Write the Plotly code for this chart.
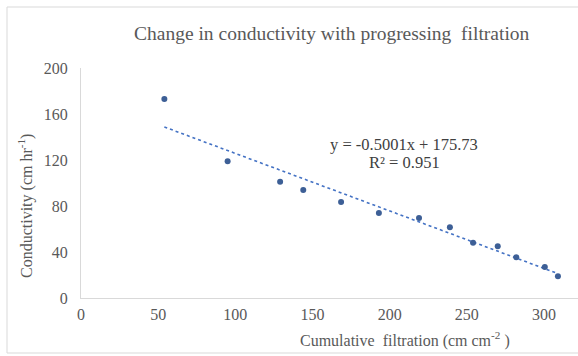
import plotly.graph_objects as go

cum_filtration = [54, 95, 129, 144, 168.5, 193, 219, 239, 254, 270, 282, 300.5, 309]
conductivity = [173, 119, 101, 94, 83.5, 74, 69.5, 61.5, 48, 45, 35.5, 27, 19]
slope = -0.5001
intercept = 175.73
r2 = 0.951
x_ticks = [0, 50, 100, 150, 200, 250, 300]
y_ticks = [0, 40, 80, 120, 160, 200]

W, H = 578, 356
L, R, T, B = 81, 0, 68, 58
pw, ph = W - L - R, H - T - B

def px(x):
    return (x - L) / pw

def py(y):
    return (H - B - y) / ph

serif = "Liberation Serif, Times New Roman, serif"
grey = "#595959"

xs = [min(cum_filtration), max(cum_filtration)]
ys = [slope * v + intercept for v in xs]

fig = go.Figure()
fig.add_trace(go.Scatter(x=xs, y=ys, mode="lines",
                         line=dict(color="#4472C4", width=1.6, dash="dot"),
                         hoverinfo="skip", showlegend=False))
fig.add_trace(go.Scatter(x=cum_filtration, y=conductivity, mode="markers",
                         marker=dict(color="#3d5f96", size=6),
                         showlegend=False))

fig.update_layout(
    width=W, height=H,
    margin=dict(l=L, r=R, t=T, b=B),
    paper_bgcolor="white", plot_bgcolor="white",
    font=dict(family=serif, size=16, color=grey),
    xaxis=dict(range=[0, 322], tickvals=x_ticks, showgrid=False, zeroline=False,
               showline=True, linecolor="#d9d9d9", linewidth=1,
               ticks="outside", ticklen=2, tickcolor="rgba(0,0,0,0)",
               tickfont=dict(family=serif, size=16, color=grey)),
    yaxis=dict(range=[0, 200], tickvals=y_ticks, showgrid=False, zeroline=False,
               showline=True, linecolor="#d9d9d9", linewidth=1,
               ticks="outside", ticklen=9, tickcolor="rgba(0,0,0,0)",
               tickfont=dict(family=serif, size=16, color=grey)),
)

annots = [
    dict(text="Change in conductivity with progressing  filtration",
         x=px(332), y=py(34), font=dict(size=19.5, color=grey)),
    dict(text="y = -0.5001x + 175.73", x=px(404), y=py(144),
         font=dict(size=16.5, color="#404040")),
    dict(text="R² = 0.951", x=px(404), y=py(162),
         font=dict(size=16.5, color="#404040")),
    dict(text="Cumulative  filtration (cm cm<sup>-2</sup> )", x=px(405), y=py(339),
         font=dict(size=16, color=grey)),
    dict(text="Conductivity (cm hr<sup>-1</sup>)", x=px(25), y=py(206), textangle=-90,
         font=dict(size=16, color=grey)),
]
for a in annots:
    fig.add_annotation(xref="paper", yref="paper", showarrow=False,
                       xanchor="center", yanchor="middle", font_family=serif, **a)

fig.add_shape(type="rect", xref="paper", yref="paper",
              x0=px(7), x1=px(590), y0=py(353), y1=py(7),
              line=dict(color="#d9d9d9", width=1), fillcolor="rgba(0,0,0,0)")

fig.write_html("out.html")
